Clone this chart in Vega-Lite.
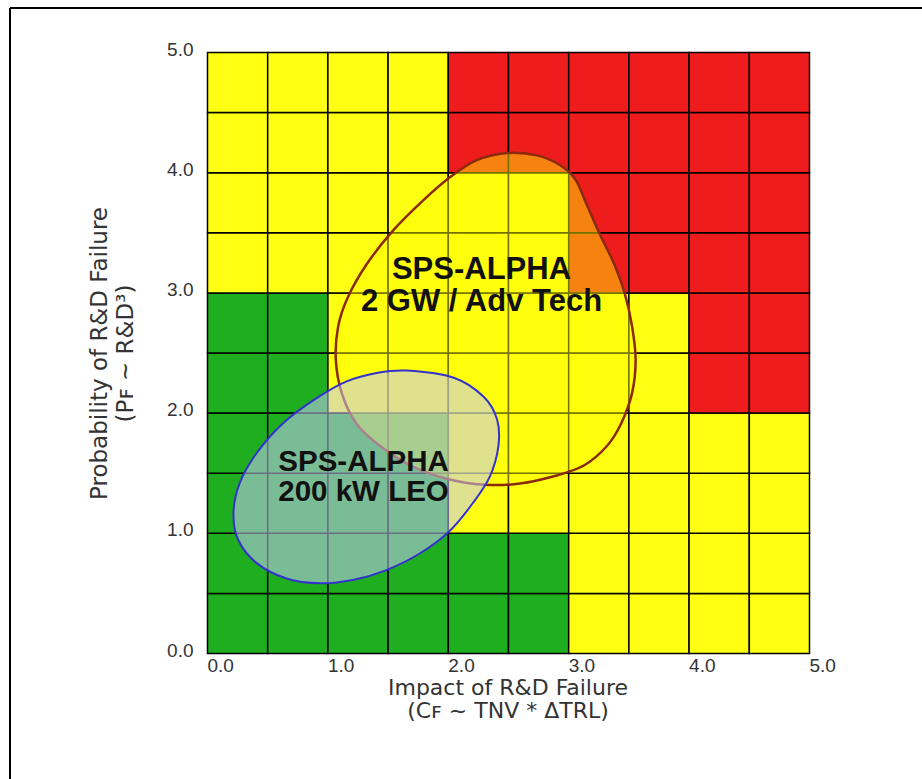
{
  "$schema": "https://vega.github.io/schema/vega-lite/v6.json",
  "width": 912,
  "height": 771,
  "autosize": {"type": "none"},
  "padding": {"left": 10, "top": 8, "right": 0, "bottom": 0},
  "background": "white",
  "config": {"view": {"stroke": null}},
  "datasets": {
    "cells": [
      {"impact": 0, "prob": 0, "zone": "G"}, {"impact": 0.5, "prob": 0, "zone": "G"}, {"impact": 1, "prob": 0, "zone": "G"}, {"impact": 1.5, "prob": 0, "zone": "G"}, {"impact": 2, "prob": 0, "zone": "G"}, {"impact": 2.5, "prob": 0, "zone": "G"}, {"impact": 3, "prob": 0, "zone": "Y"}, {"impact": 3.5, "prob": 0, "zone": "Y"}, {"impact": 4, "prob": 0, "zone": "Y"}, {"impact": 4.5, "prob": 0, "zone": "Y"},
      {"impact": 0, "prob": 0.5, "zone": "G"}, {"impact": 0.5, "prob": 0.5, "zone": "G"}, {"impact": 1, "prob": 0.5, "zone": "G"}, {"impact": 1.5, "prob": 0.5, "zone": "G"}, {"impact": 2, "prob": 0.5, "zone": "G"}, {"impact": 2.5, "prob": 0.5, "zone": "G"}, {"impact": 3, "prob": 0.5, "zone": "Y"}, {"impact": 3.5, "prob": 0.5, "zone": "Y"}, {"impact": 4, "prob": 0.5, "zone": "Y"}, {"impact": 4.5, "prob": 0.5, "zone": "Y"},
      {"impact": 0, "prob": 1, "zone": "G"}, {"impact": 0.5, "prob": 1, "zone": "G"}, {"impact": 1, "prob": 1, "zone": "G"}, {"impact": 1.5, "prob": 1, "zone": "G"}, {"impact": 2, "prob": 1, "zone": "Y"}, {"impact": 2.5, "prob": 1, "zone": "Y"}, {"impact": 3, "prob": 1, "zone": "Y"}, {"impact": 3.5, "prob": 1, "zone": "Y"}, {"impact": 4, "prob": 1, "zone": "Y"}, {"impact": 4.5, "prob": 1, "zone": "Y"},
      {"impact": 0, "prob": 1.5, "zone": "G"}, {"impact": 0.5, "prob": 1.5, "zone": "G"}, {"impact": 1, "prob": 1.5, "zone": "G"}, {"impact": 1.5, "prob": 1.5, "zone": "G"}, {"impact": 2, "prob": 1.5, "zone": "Y"}, {"impact": 2.5, "prob": 1.5, "zone": "Y"}, {"impact": 3, "prob": 1.5, "zone": "Y"}, {"impact": 3.5, "prob": 1.5, "zone": "Y"}, {"impact": 4, "prob": 1.5, "zone": "Y"}, {"impact": 4.5, "prob": 1.5, "zone": "Y"},
      {"impact": 0, "prob": 2, "zone": "G"}, {"impact": 0.5, "prob": 2, "zone": "G"}, {"impact": 1, "prob": 2, "zone": "Y"}, {"impact": 1.5, "prob": 2, "zone": "Y"}, {"impact": 2, "prob": 2, "zone": "Y"}, {"impact": 2.5, "prob": 2, "zone": "Y"}, {"impact": 3, "prob": 2, "zone": "Y"}, {"impact": 3.5, "prob": 2, "zone": "Y"}, {"impact": 4, "prob": 2, "zone": "R"}, {"impact": 4.5, "prob": 2, "zone": "R"},
      {"impact": 0, "prob": 2.5, "zone": "G"}, {"impact": 0.5, "prob": 2.5, "zone": "G"}, {"impact": 1, "prob": 2.5, "zone": "Y"}, {"impact": 1.5, "prob": 2.5, "zone": "Y"}, {"impact": 2, "prob": 2.5, "zone": "Y"}, {"impact": 2.5, "prob": 2.5, "zone": "Y"}, {"impact": 3, "prob": 2.5, "zone": "Y"}, {"impact": 3.5, "prob": 2.5, "zone": "Y"}, {"impact": 4, "prob": 2.5, "zone": "R"}, {"impact": 4.5, "prob": 2.5, "zone": "R"},
      {"impact": 0, "prob": 3, "zone": "Y"}, {"impact": 0.5, "prob": 3, "zone": "Y"}, {"impact": 1, "prob": 3, "zone": "Y"}, {"impact": 1.5, "prob": 3, "zone": "Y"}, {"impact": 2, "prob": 3, "zone": "Y"}, {"impact": 2.5, "prob": 3, "zone": "Y"}, {"impact": 3, "prob": 3, "zone": "R"}, {"impact": 3.5, "prob": 3, "zone": "R"}, {"impact": 4, "prob": 3, "zone": "R"}, {"impact": 4.5, "prob": 3, "zone": "R"},
      {"impact": 0, "prob": 3.5, "zone": "Y"}, {"impact": 0.5, "prob": 3.5, "zone": "Y"}, {"impact": 1, "prob": 3.5, "zone": "Y"}, {"impact": 1.5, "prob": 3.5, "zone": "Y"}, {"impact": 2, "prob": 3.5, "zone": "Y"}, {"impact": 2.5, "prob": 3.5, "zone": "Y"}, {"impact": 3, "prob": 3.5, "zone": "R"}, {"impact": 3.5, "prob": 3.5, "zone": "R"}, {"impact": 4, "prob": 3.5, "zone": "R"}, {"impact": 4.5, "prob": 3.5, "zone": "R"},
      {"impact": 0, "prob": 4, "zone": "Y"}, {"impact": 0.5, "prob": 4, "zone": "Y"}, {"impact": 1, "prob": 4, "zone": "Y"}, {"impact": 1.5, "prob": 4, "zone": "Y"}, {"impact": 2, "prob": 4, "zone": "R"}, {"impact": 2.5, "prob": 4, "zone": "R"}, {"impact": 3, "prob": 4, "zone": "R"}, {"impact": 3.5, "prob": 4, "zone": "R"}, {"impact": 4, "prob": 4, "zone": "R"}, {"impact": 4.5, "prob": 4, "zone": "R"},
      {"impact": 0, "prob": 4.5, "zone": "Y"}, {"impact": 0.5, "prob": 4.5, "zone": "Y"}, {"impact": 1, "prob": 4.5, "zone": "Y"}, {"impact": 1.5, "prob": 4.5, "zone": "Y"}, {"impact": 2, "prob": 4.5, "zone": "R"}, {"impact": 2.5, "prob": 4.5, "zone": "R"}, {"impact": 3, "prob": 4.5, "zone": "R"}, {"impact": 3.5, "prob": 4.5, "zone": "R"}, {"impact": 4, "prob": 4.5, "zone": "R"}, {"impact": 4.5, "prob": 4.5, "zone": "R"}
    ],
    "teardrop": [
      {"k": 1, "impact": 2.49, "prob": 4.16}, {"k": 2, "impact": 2.74, "prob": 4.14}, {"k": 3, "impact": 2.93, "prob": 4.06}, {"k": 4, "impact": 3.06, "prob": 3.94}, {"k": 5, "impact": 3.15, "prob": 3.74}, {"k": 6, "impact": 3.26, "prob": 3.49}, {"k": 7, "impact": 3.38, "prob": 3.24}, {"k": 8, "impact": 3.47, "prob": 2.99}, {"k": 9, "impact": 3.53, "prob": 2.72}, {"k": 10, "impact": 3.56, "prob": 2.44}, {"k": 11, "impact": 3.53, "prob": 2.16}, {"k": 12, "impact": 3.44, "prob": 1.91}, {"k": 13, "impact": 3.32, "prob": 1.72}, {"k": 14, "impact": 3.13, "prob": 1.56}, {"k": 15, "impact": 2.88, "prob": 1.47}, {"k": 16, "impact": 2.6, "prob": 1.41}, {"k": 17, "impact": 2.3, "prob": 1.4}, {"k": 18, "impact": 1.99, "prob": 1.45}, {"k": 19, "impact": 1.71, "prob": 1.55}, {"k": 20, "impact": 1.44, "prob": 1.72}, {"k": 21, "impact": 1.24, "prob": 1.91}, {"k": 22, "impact": 1.12, "prob": 2.16}, {"k": 23, "impact": 1.07, "prob": 2.44}, {"k": 24, "impact": 1.09, "prob": 2.72}, {"k": 25, "impact": 1.17, "prob": 2.96}, {"k": 26, "impact": 1.33, "prob": 3.24}, {"k": 27, "impact": 1.55, "prob": 3.52}, {"k": 28, "impact": 1.8, "prob": 3.77}, {"k": 29, "impact": 2.02, "prob": 3.96}, {"k": 30, "impact": 2.24, "prob": 4.1}
    ],
    "ellipse": [
      {"k": 1, "impact": 1.66, "prob": 2.35}, {"k": 2, "impact": 2.05, "prob": 2.29}, {"k": 3, "impact": 2.3, "prob": 2.13}, {"k": 4, "impact": 2.41, "prob": 1.94}, {"k": 5, "impact": 2.42, "prob": 1.72}, {"k": 6, "impact": 2.35, "prob": 1.47}, {"k": 7, "impact": 2.21, "prob": 1.25}, {"k": 8, "impact": 2.02, "prob": 1.02}, {"k": 9, "impact": 1.77, "prob": 0.83}, {"k": 10, "impact": 1.49, "prob": 0.69}, {"k": 11, "impact": 1.22, "prob": 0.61}, {"k": 12, "impact": 0.94, "prob": 0.58}, {"k": 13, "impact": 0.66, "prob": 0.62}, {"k": 14, "impact": 0.41, "prob": 0.75}, {"k": 15, "impact": 0.26, "prob": 0.94}, {"k": 16, "impact": 0.22, "prob": 1.16}, {"k": 17, "impact": 0.27, "prob": 1.41}, {"k": 18, "impact": 0.41, "prob": 1.66}, {"k": 19, "impact": 0.63, "prob": 1.91}, {"k": 20, "impact": 0.91, "prob": 2.12}, {"k": 21, "impact": 1.16, "prob": 2.26}, {"k": 22, "impact": 1.41, "prob": 2.33}
    ]
  },
  "layer": [
    {
      "data": {"name": "cells"},
      "mark": {"type": "rect", "stroke": "black", "strokeWidth": 1.5},
      "encoding": {
        "x": {
          "field": "impact", "type": "quantitative", "bin": {"binned": true, "step": 0.5},
          "scale": {"domain": [-1.6362, 5.9386], "nice": false, "zero": false},
          "axis": {
            "values": [0, 1, 2, 3, 4, 5], "format": ".1f", "offset": -126, "domain": false, "ticks": false, "grid": false,
            "labelAlign": "left", "labelBaseline": "top", "labelPadding": 3, "labelFont": "Liberation Sans", "labelFontSize": 19, "labelColor": "#333", "labelFlush": false,
            "title": ["Impact of R&D Failure", "(Cꜰ ~ TNV * ΔTRL)"], "titleFont": "DejaVu Sans", "titleFontSize": 22, "titleFontWeight": "normal", "titleColor": "#333",
            "titleLineHeight": 23, "titleX": 497.5, "titleY": 34, "titleBaseline": "middle", "titleAlign": "center"
          }
        },
        "y": {
          "field": "prob", "type": "quantitative", "bin": {"binned": true, "step": 0.5},
          "scale": {"domain": [-1.0482, 5.3661], "nice": false, "zero": false},
          "axis": {
            "values": [0, 1, 2, 3, 4, 5], "format": ".1f", "offset": -197, "domain": false, "ticks": false, "grid": false,
            "labelAlign": "right", "labelBaseline": "middle", "labelPadding": 14, "labelOffset": -3, "labelFont": "Liberation Sans", "labelFontSize": 19, "labelColor": "#333",
            "title": ["Probability of R&D Failure", "(Pꜰ ~ R&D³)"], "titleFont": "DejaVu Sans", "titleFontSize": 23, "titleFontWeight": "normal", "titleColor": "#333",
            "titleLineHeight": 26, "titleX": -108, "titleY": 345, "titleBaseline": "middle", "titleAlign": "center", "titleAngle": -90
          }
        },
        "color": {"field": "zone", "type": "nominal", "legend": null,
          "scale": {"domain": ["G", "Y", "R"], "range": ["#1fae1f", "#ffff14", "#ee1c1c"]}}
      }
    },
    {
      "data": {"name": "teardrop"},
      "mark": {"type": "line", "interpolate": "cardinal-closed", "fill": "#ffff00", "fillOpacity": 0.45, "stroke": "#8b2a0a", "strokeWidth": 2.5},
      "encoding": {
        "x": {"field": "impact", "type": "quantitative"},
        "y": {"field": "prob", "type": "quantitative"},
        "order": {"field": "k", "type": "quantitative"}
      }
    },
    {
      "data": {"name": "ellipse"},
      "mark": {"type": "line", "interpolate": "cardinal-closed", "fill": "#c5c8f8", "fillOpacity": 0.55, "stroke": "#3333cc", "strokeWidth": 2},
      "encoding": {
        "x": {"field": "impact", "type": "quantitative"},
        "y": {"field": "prob", "type": "quantitative"},
        "order": {"field": "k", "type": "quantitative"}
      }
    },
    {
      "data": {"values": [{"impact": 2.28, "prob": 3.19, "label": "SPS-ALPHA\n2 GW / Adv Tech"}]},
      "mark": {"type": "text", "font": "Liberation Sans", "fontWeight": "bold", "fontSize": 31, "lineHeight": 32, "lineBreak": "\n", "align": "center", "baseline": "middle", "color": "#111"},
      "encoding": {
        "x": {"field": "impact", "type": "quantitative"},
        "y": {"field": "prob", "type": "quantitative"},
        "text": {"field": "label"}
      }
    },
    {
      "data": {"values": [{"impact": 1.3, "prob": 1.59, "label": "SPS-ALPHA\n200 kW LEO"}]},
      "mark": {"type": "text", "font": "Liberation Sans", "fontWeight": "bold", "fontSize": 29.5, "lineHeight": 30, "lineBreak": "\n", "align": "center", "baseline": "middle", "color": "#111"},
      "encoding": {
        "x": {"field": "impact", "type": "quantitative"},
        "y": {"field": "prob", "type": "quantitative"},
        "text": {"field": "label"}
      }
    },
    {
      "data": {"values": [{}]},
      "mark": {"type": "rule", "color": "black", "strokeWidth": 2},
      "encoding": {"x": {"datum": -1.6362}}
    },
    {
      "data": {"values": [{}]},
      "mark": {"type": "rule", "color": "black", "strokeWidth": 2},
      "encoding": {"y": {"datum": 5.3661}}
    }
  ]
}
